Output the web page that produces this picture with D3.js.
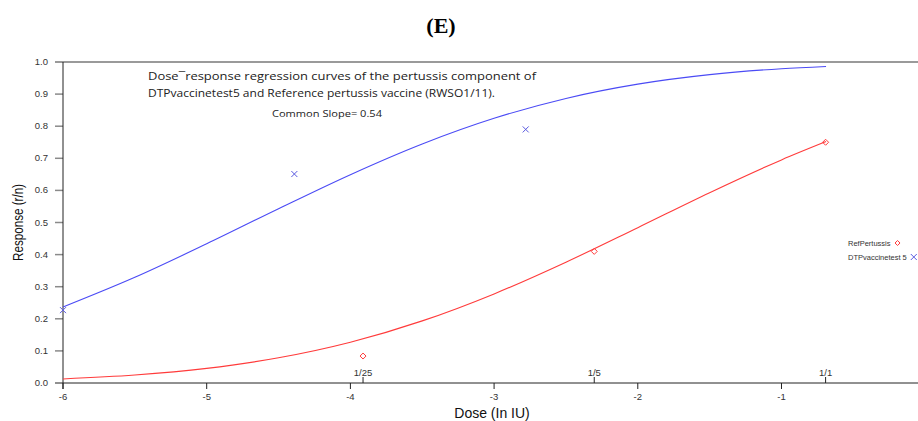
<!DOCTYPE html>
<html>
<head>
<meta charset="utf-8">
<script src="https://cdn.jsdelivr.net/npm/d3@7"></script>
<style>
  body { margin: 0; background: #fff; }
  svg { display: block; }
  .tick-lbl { font-family: "Liberation Sans", Arial, sans-serif; font-size: 9.5px; fill: #333; }
</style>
</head>
<body>
<div id="chart"></div>
<script>
// Observed responses (x = ln dose in IU)
const refDoses = [-3.912, -2.303, -0.693];
const refResp = [0.084, 0.41, 0.75];
const testDoses = [-6.0, -4.39, -2.78];
const testResp = [0.227, 0.651, 0.79];

// Fitted curves
const curveX = [-6, -5.5, -5, -4.5, -4, -3.5, -3, -2.5, -2, -1.5, -1, -0.69];
const refCurve = [0.0126, 0.0247, 0.0455, 0.0785, 0.127, 0.1935, 0.2776, 0.3764, 0.484, 0.5929, 0.695, 0.752];
const testCurve = [0.2367, 0.3292, 0.4337, 0.543, 0.6491, 0.7447, 0.8246, 0.8865, 0.931, 0.9606, 0.979, 0.9862];

const xTicks = [-6, -5, -4, -3, -2, -1];
const yTicks = [0, 0.1, 0.2, 0.3, 0.4, 0.5, 0.6, 0.7, 0.8, 0.9, 1.0];
const doseLabels = ["1/25", "1/5", "1/1"];

const W = 918, H = 421;
const pLeft = 63, pRight = 918, pTop = 62, pBottom = 383;

const svg = d3.select("#chart").append("svg")
    .attr("width", W)
    .attr("height", H);

const x = d3.scaleLinear().domain([-6, -0.05]).range([pLeft, pRight]);
const y = d3.scaleLinear().domain([0, 1]).range([pBottom, pTop]);

// panel letter
svg.append("text")
    .attr("x", 441)
    .attr("y", 33)
    .attr("text-anchor", "middle")
    .attr("font-family", "Liberation Serif, Times New Roman, serif")
    .attr("font-weight", "bold")
    .attr("font-size", "22px")
    .attr("fill", "#000")
    .text("(E)");

// top border (1.0 line)
svg.append("line")
    .attr("x1", pLeft - 8).attr("x2", W)
    .attr("y1", y(1)).attr("y2", y(1))
    .attr("stroke", "#9a9a9a")
    .attr("stroke-width", 2);

// y ticks
yTicks.forEach(t => {
    if (t !== 1 && t !== 0) {
        svg.append("line")
            .attr("x1", pLeft - 8).attr("x2", pLeft)
            .attr("y1", y(t)).attr("y2", y(t))
            .attr("stroke", "#8a8a8a")
            .attr("stroke-width", 1.5);
    }
    svg.append("text")
        .attr("class", "tick-lbl")
        .attr("x", pLeft - 15)
        .attr("y", y(t) + 3)
        .attr("text-anchor", "end")
        .text(t.toFixed(1));
});

// x axis line
svg.append("line")
    .attr("x1", pLeft - 8).attr("x2", W)
    .attr("y1", pBottom).attr("y2", pBottom)
    .attr("stroke", "#222")
    .attr("stroke-width", 1);

// y axis line
svg.append("line")
    .attr("x1", pLeft).attr("x2", pLeft)
    .attr("y1", pTop).attr("y2", pBottom + 6)
    .attr("stroke", "#222")
    .attr("stroke-width", 1);

// x ticks below
xTicks.forEach(t => {
    svg.append("line")
        .attr("x1", x(t)).attr("x2", x(t))
        .attr("y1", pBottom).attr("y2", pBottom + 6)
        .attr("stroke", "#222");
    svg.append("text")
        .attr("class", "tick-lbl")
        .attr("x", x(t))
        .attr("y", pBottom + 17)
        .attr("text-anchor", "middle")
        .text(t);
});

// dose ticks above
refDoses.forEach((d, i) => {
    svg.append("line")
        .attr("x1", x(d)).attr("x2", x(d))
        .attr("y1", pBottom).attr("y2", pBottom - 6)
        .attr("stroke", "#222");
    svg.append("text")
        .attr("class", "tick-lbl")
        .attr("x", x(d))
        .attr("y", pBottom - 7)
        .attr("text-anchor", "middle")
        .text(doseLabels[i]);
});

// axis titles
svg.append("text")
    .attr("x", 492)
    .attr("y", 418)
    .attr("text-anchor", "middle")
    .attr("font-family", "Liberation Sans, Arial, sans-serif")
    .attr("font-size", "14px")
    .attr("fill", "#111")
    .text("Dose (In IU)");

svg.append("text")
    .attr("transform", `translate(23,${(pTop + pBottom) / 2}) rotate(-90)`)
    .attr("text-anchor", "middle")
    .attr("font-family", "Liberation Sans, Arial, sans-serif")
    .attr("font-size", "14px")
    .attr("textLength", 77)
    .attr("lengthAdjust", "spacingAndGlyphs")
    .attr("fill", "#111")
    .text("Response (r/n)");

// curves
const line = d3.line()
    .x((d, i) => x(curveX[i]))
    .y(d => y(d))
    .curve(d3.curveMonotoneX);

svg.append("path")
    .attr("d", line(refCurve))
    .attr("fill", "none")
    .attr("stroke", "#ff3b3b")
    .attr("stroke-width", 1.1);

svg.append("path")
    .attr("d", line(testCurve))
    .attr("fill", "none")
    .attr("stroke", "#4b4bf5")
    .attr("stroke-width", 1.1);

// markers
function drawDiamond(cx, cy, r, color) {
    svg.append("path")
        .attr("d", `M${cx},${cy - r}L${cx + r},${cy}L${cx},${cy + r}L${cx - r},${cy}Z`)
        .attr("stroke", color)
        .attr("stroke-width", 1)
        .attr("fill", "none");
}

function drawX(cx, cy, r, color) {
    svg.append("path")
        .attr("d", `M${cx - r},${cy - r}L${cx + r},${cy + r}M${cx - r},${cy + r}L${cx + r},${cy - r}`)
        .attr("stroke", color)
        .attr("stroke-width", 1)
        .attr("fill", "none");
}

refDoses.forEach((d, i) => {
    drawDiamond(x(d), y(refResp[i]), 3, "#ff3b3b");
});

testDoses.forEach((d, i) => {
    drawX(x(d), y(testResp[i]), 3, "#5a5ae0");
});

// annotation
const ann = svg.append("text")
    .attr("font-family", "Open Sans, sans-serif")
    .attr("font-size", "11.5px")
    .attr("fill", "#222");
ann.append("tspan").attr("x", 148).attr("y", 80)
    .attr("textLength", 388)
    .attr("lengthAdjust", "spacingAndGlyphs")
    .text("Dose\u00AFresponse regression curves of the pertussis component of");
ann.append("tspan").attr("x", 148).attr("y", 97)
    .attr("textLength", 347)
    .attr("lengthAdjust", "spacingAndGlyphs")
    .text("DTPvaccinetest5 and Reference pertussis vaccine (RWSO1/11).");

svg.append("text")
    .attr("x", 272)
    .attr("y", 117)
    .attr("font-family", "Open Sans, sans-serif")
    .attr("font-size", "9.5px")
    .attr("textLength", 110)
    .attr("lengthAdjust", "spacingAndGlyphs")
    .attr("fill", "#222")
    .text("Common Slope= 0.54");

// legend
const legend = [
    { name: "RefPertussis", color: "#ff3b3b", mark: "diamond" },
    { name: "DTPvaccinetest 5", color: "#5a5ae0", mark: "x" }
];
legend.forEach((l, i) => {
    const ly = 243 + i * 14;
    const t = svg.append("text")
        .attr("x", 848)
        .attr("y", ly + 2.5)
        .attr("font-family", "Liberation Sans, Arial, sans-serif")
        .attr("font-size", "7.5px")
        .attr("fill", "#333")
        .text(l.name);
    const tw = t.node().getComputedTextLength();
    const mx = 848 + tw + 7;
    if (l.mark === "diamond") {
        drawDiamond(mx, ly, 2.5, l.color);
    } else {
        drawX(mx, ly, 3, l.color);
    }
});
</script>
</body>
</html>
